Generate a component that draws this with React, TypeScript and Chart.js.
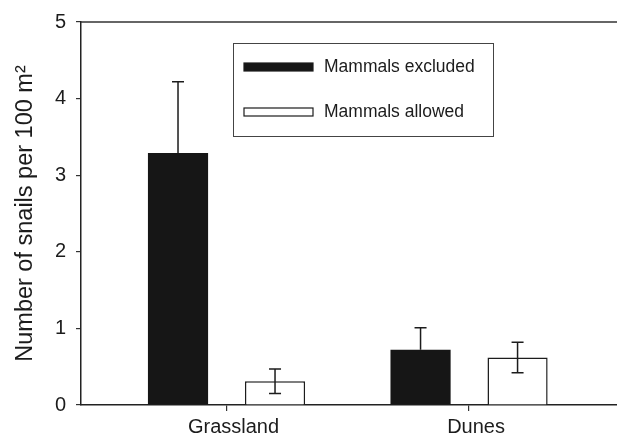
import React, { useEffect, useRef } from 'react';
import { Chart, registerables } from 'chart.js';

Chart.register(...registerables);

const categories = ['Grassland', 'Dunes'];
const seriesNames = ['Mammals excluded', 'Mammals allowed'];
const excludedMeans = [3.29, 0.72];
const excludedErrors = [0.93, 0.29];
const allowedMeans = [0.31, 0.62];
const allowedErrors = [0.16, 0.2];
const yTickValues = [0, 1, 2, 3, 4, 5];

const FONT = "'Liberation Sans', Arial, Helvetica, sans-serif";
const INK = '#1c1c1c';

const errorBarPlugin = {
  id: 'errorBars',
  afterDatasetsDraw(chart: any) {
    const ctx = chart.ctx;
    const yScale = chart.scales.y;
    chart.data.datasets.forEach((ds: any, di: number) => {
      const meta = chart.getDatasetMeta(di);
      meta.data.forEach((el: any, i: number) => {
        const mean = ds.data[i].y;
        const err = ds.errors[i];
        const yMid = yScale.getPixelForValue(mean);
        const yTop = yScale.getPixelForValue(mean + err);
        const yBot = ds.showLower ? yScale.getPixelForValue(mean - err) : yMid;
        const cap = 6;
        ctx.save();
        ctx.strokeStyle = INK;
        ctx.lineWidth = 1.5;
        ctx.beginPath();
        ctx.moveTo(el.x, yBot);
        ctx.lineTo(el.x, yTop);
        ctx.moveTo(el.x - cap, yTop);
        ctx.lineTo(el.x + cap, yTop);
        if (ds.showLower) {
          ctx.moveTo(el.x - cap, yBot);
          ctx.lineTo(el.x + cap, yBot);
        }
        ctx.stroke();
        ctx.restore();
      });
    });
  },
};

const framePlugin = {
  id: 'frameAndLegend',
  afterDraw(chart: any) {
    const ctx = chart.ctx;
    const area = chart.chartArea;
    ctx.save();
    // top frame line
    ctx.strokeStyle = '#333';
    ctx.lineWidth = 1.5;
    ctx.beginPath();
    ctx.moveTo(area.left, area.top);
    ctx.lineTo(chart.width, area.top);
    ctx.stroke();

    // legend box
    const bx = area.left + 152;
    const by = area.top + 21;
    const bw = 260;
    const bh = 93;
    ctx.strokeStyle = '#444';
    ctx.lineWidth = 1;
    ctx.strokeRect(bx + 0.5, by + 0.5, bw, bh);

    const fills = ['#161616', '#ffffff'];
    const rowY = [by + 24, by + 69];
    ctx.font = `17.5px ${FONT}`;
    ctx.textBaseline = 'middle';
    ctx.textAlign = 'left';
    seriesNames.forEach((name, i) => {
      const ry = rowY[i];
      ctx.fillStyle = fills[i];
      ctx.fillRect(bx + 11, ry - 4, 69, 8);
      ctx.strokeStyle = INK;
      ctx.lineWidth = 1.2;
      ctx.strokeRect(bx + 11, ry - 4, 69, 8);
      ctx.fillStyle = INK;
      ctx.fillText(name, bx + 91, ry);
    });
    ctx.restore();
  },
};

export default function App() {
  const ref = useRef<HTMLCanvasElement | null>(null);

  useEffect(() => {
    document.body.style.margin = '0';
    const canvas = ref.current;
    if (!canvas) return;
    const chart = new Chart(canvas, {
      type: 'bar',
      data: {
        datasets: [
          {
            label: seriesNames[0],
            data: categories.map((_, i) => ({ x: i, y: excludedMeans[i] })),
            errors: excludedErrors,
            showLower: false,
            backgroundColor: '#161616',
            borderColor: '#161616',
            borderWidth: 0,
          } as any,
          {
            label: seriesNames[1],
            data: categories.map((_, i) => ({ x: i, y: allowedMeans[i] })),
            errors: allowedErrors,
            showLower: true,
            backgroundColor: '#ffffff',
            borderColor: INK,
            borderWidth: 1.5,
          } as any,
        ],
      },
      options: {
        responsive: false,
        animation: false,
        events: [],
        barPercentage: 0.62,
        categoryPercentage: 0.8,
        layout: { padding: { top: 21, right: 0, left: 0, bottom: 0 } },
        plugins: {
          legend: { display: false },
          tooltip: { enabled: false },
          title: { display: false },
        },
        scales: {
          x: {
            type: 'linear',
            offset: false,
            min: -0.6,
            max: 1.61,
            afterBuildTicks: (scale: any) => {
              scale.ticks = categories.map((_, i) => ({ value: i }));
            },
            afterFit: (scale: any) => {
              scale.height = 32;
            },
            ticks: {
              callback: (v: any) => categories[Math.round(Number(v))] ?? '',
              font: { size: 20, family: FONT },
              color: INK,
              padding: 4,
              labelOffset: 7,
              maxRotation: 0,
              autoSkip: false,
            },
            grid: {
              offset: false,
              drawOnChartArea: false,
              drawTicks: true,
              tickLength: 6,
              color: '#333',
              lineWidth: 1.2,
            },
            border: { display: true, color: '#222', width: 1.5 },
          } as any,
          y: {
            type: 'linear',
            min: 0,
            max: 5,
            afterBuildTicks: (scale: any) => {
              scale.ticks = yTickValues.map((v) => ({ value: v }));
            },
            afterFit: (scale: any) => {
              scale.width = 81;
            },
            ticks: {
              font: { size: 20, family: FONT },
              color: INK,
              padding: 10,
            },
            grid: {
              drawOnChartArea: false,
              drawTicks: true,
              tickLength: 5,
              color: '#333',
              lineWidth: 1.2,
            },
            border: { display: true, color: '#222', width: 1.5 },
            title: {
              display: true,
              text: 'Number of snails per 100 m²',
              font: { size: 23.5, family: FONT },
              color: INK,
              padding: { top: 11, bottom: 0 },
            },
          } as any,
        },
      } as any,
      plugins: [errorBarPlugin, framePlugin],
    });
    return () => chart.destroy();
  }, []);

  return (
    <div style={{ width: 617, height: 437, background: '#fff' }}>
      <canvas ref={ref} width={617} height={437} />
    </div>
  );
}
